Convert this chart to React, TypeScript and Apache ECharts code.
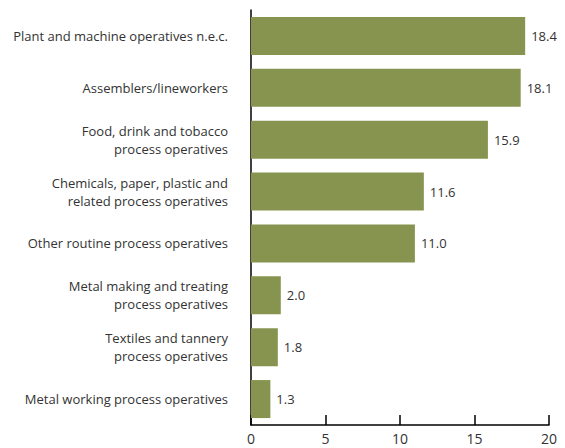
import React, { useEffect, useRef } from "react";
import * as echarts from "echarts";

const categories = [
  "Plant and machine operatives n.e.c.",
  "Assemblers/lineworkers",
  "Food, drink and tobacco\nprocess operatives",
  "Chemicals, paper, plastic and\nrelated process operatives",
  "Other routine process operatives",
  "Metal making and treating\nprocess operatives",
  "Textiles and tannery\nprocess operatives",
  "Metal working process operatives",
];
const values = [18.4, 18.1, 15.9, 11.6, 11.0, 2.0, 1.8, 1.3];
const xTicks = [0, 5, 10, 15, 20];

export default function App() {
  const ref = useRef<HTMLDivElement>(null);
  useEffect(() => {
    if (!ref.current) return;
    const chart = echarts.init(ref.current, null, { renderer: "svg" });
    const font = "Open Sans";
    chart.setOption({
      animation: false,
      grid: { left: 251, right: 16, top: 10, bottom: 23, containLabel: false },
      xAxis: {
        type: "value",
        min: xTicks[0],
        max: xTicks[xTicks.length - 1],
        interval: 5,
        axisLine: { show: true, lineStyle: { color: "#000", width: 1.5 } },
        axisTick: { show: true, inside: true, length: 10, lineStyle: { color: "#000", width: 1.5 } },
        axisLabel: { color: "#333", fontSize: 14, fontFamily: font, margin: 6 },
        splitLine: { show: false },
      },
      yAxis: {
        type: "category",
        data: categories,
        inverse: true,
        axisLine: { show: true, lineStyle: { color: "#000", width: 1.5 } },
        axisTick: { show: false },
        axisLabel: {
          color: "#333",
          fontSize: 13,
          fontFamily: font,
          margin: 23,
          align: "right",
          lineHeight: 18,
        },
      },
      series: [
        {
          type: "bar",
          data: values,
          barWidth: 38,
          itemStyle: { color: "#87944F" },
          label: {
            show: true,
            position: "right",
            distance: 6,
            color: "#333",
            fontSize: 13,
            fontFamily: font,
            formatter: (p: any) => p.value.toFixed(1),
          },
        },
      ],
    });
    return () => chart.dispose();
  }, []);
  return <div ref={ref} style={{ width: 565, height: 448, position: "absolute", left: 0, top: 0 }} />;
}
